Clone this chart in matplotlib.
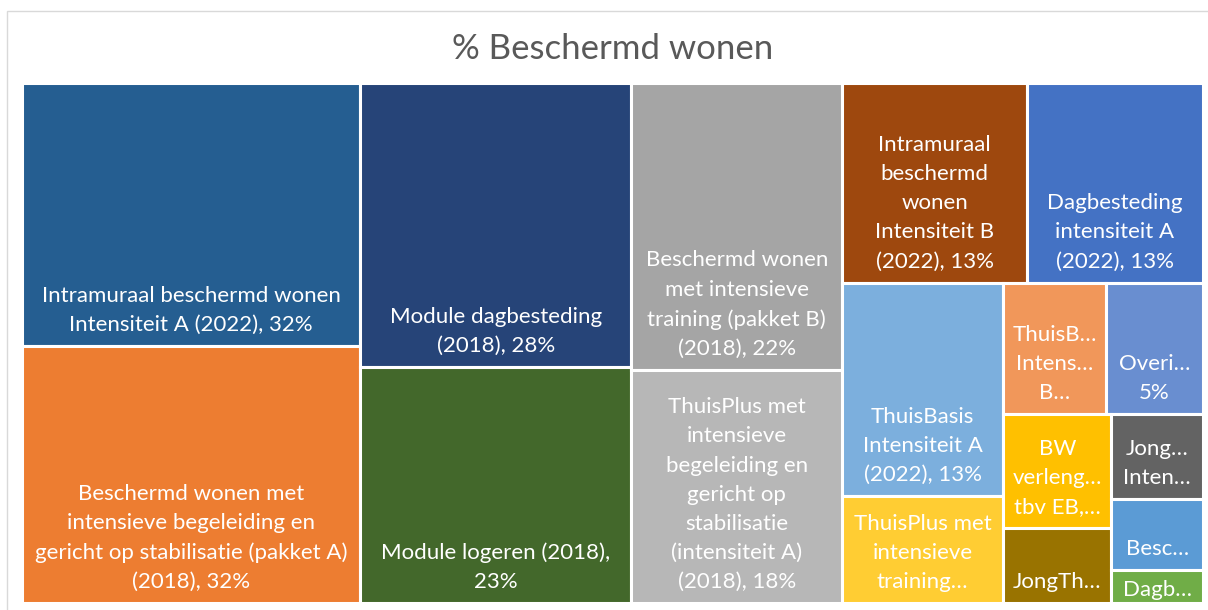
import matplotlib.pyplot as plt
from matplotlib.patches import Rectangle

# values (%), largest first
values = [32.4, 31.6, 28.0, 23.3, 22.0, 17.9, 13.4, 12.8, 12.5, 6.25,
          4.9, 4.65, 4.5, 2.95, 2.85, 2.35, 1.1]
labels = [
    "Intramuraal beschermd wonen\nIntensiteit A (2022), 32%",
    "Beschermd wonen met\nintensieve begeleiding en\ngericht op stabilisatie (pakket A)\n(2018), 32%",
    "Module dagbesteding\n(2018), 28%",
    "Module logeren (2018),\n23%",
    "Beschermd wonen\nmet intensieve\ntraining (pakket B)\n(2018), 22%",
    "ThuisPlus met\nintensieve\nbegeleiding en\ngericht op\nstabilisatie\n(intensiteit A)\n(2018), 18%",
    "Intramuraal\nbeschermd\nwonen\nIntensiteit B\n(2022), 13%",
    "Dagbesteding\nintensiteit A\n(2022), 13%",
    "ThuisBasis\nIntensiteit A\n(2022), 13%",
    "ThuisPlus met\nintensieve\ntraining\u2026",
    "ThuisB\u2026\nIntens\u2026\nB\u2026",
    "Overi\u2026\n5%",
    "BW\nverleng\u2026\ntbv EB,\u2026",
    "JongTh\u2026",
    "Jong\u2026\nInten\u2026",
    "Besc\u2026",
    "Dagb\u2026",
]
colors = ['#255E91', '#ED7D31', '#264478', '#43682B', '#A5A5A5', '#B7B7B7',
          '#9E480E', '#4472C4', '#7CAFDD', '#FFCD33', '#F1975A', '#698ED0',
          '#FFC000', '#997300', '#636363', '#5B9BD5', '#70AD47']


def _worst(row, side):
    s = sum(row)
    return max(max(side * side * r / (s * s), s * s / (side * side * r)) for r in row)


def squarify(vals, x, y, w, h):
    # classic squarified treemap, y grows downward
    total = sum(vals)
    areas = [v * w * h / total for v in vals]
    rects = []
    while areas:
        side = min(w, h)
        row = [areas[0]]
        i = 1
        while i < len(areas) and _worst(row + [areas[i]], side) <= _worst(row, side):
            row.append(areas[i])
            i += 1
        s = sum(row)
        if w >= h:
            cw = s / h
            yy = y
            for a in row:
                rects.append((x, yy, cw, a / cw))
                yy += a / cw
            x += cw
            w -= cw
        else:
            rh = s / w
            xx = x
            for a in row:
                rects.append((xx, y, a / rh, rh))
                xx += a / rh
            y += rh
            h -= rh
        areas = areas[i:]
    return rects


W, H = 1181, 520
fig = plt.figure(figsize=(12.08, 6.10), dpi=100)
fig.patches.append(Rectangle((7 / 1208, -0.1), 1.2, (610 - 11) / 610 + 0.1,
                             transform=fig.transFigure, fill=False,
                             edgecolor='#D9D9D9', linewidth=1))
ax = fig.add_axes([22 / 1208, 7 / 610, W / 1208, H / 610])
ax.set_xlim(0, W)
ax.set_ylim(H, 0)
ax.axis('off')

for (x, y, w, h), lab, col in zip(squarify(values, 0, 0, W, H), labels, colors):
    ax.add_patch(Rectangle((x, y), w, h, facecolor=col, edgecolor='white', linewidth=2.2))
    pad = 11 if h > 50 else 3
    ax.text(x + w / 2, y + h - pad, lab, ha='center', va='bottom', multialignment='center',
            color='white', fontsize=16, family='Lato', linespacing=1.57)

fig.text(613 / 1208, 1 - 49 / 610, '% Beschermd wonen', ha='center', va='center',
         color='#595959', fontsize=25, family='Lato')

fig.savefig('out.png', dpi=100)
